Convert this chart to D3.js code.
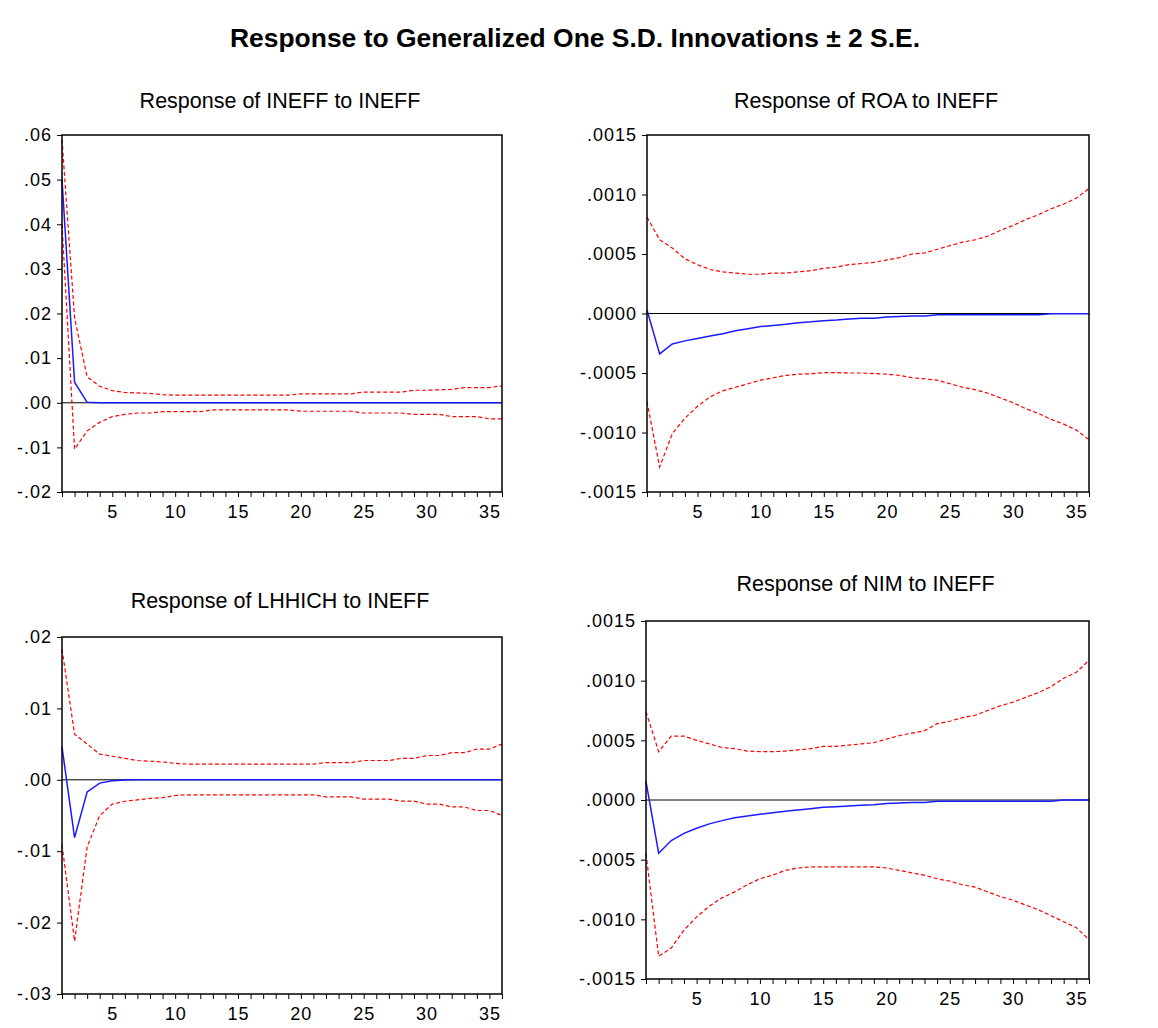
<!DOCTYPE html>
<html>
<head>
<meta charset="utf-8">
<script src="https://cdn.jsdelivr.net/npm/d3@7"></script>
<style>
  body { margin: 0; background: #fff; }
  svg { display: block; }
  .tick text { font-family: "Liberation Sans", Arial, sans-serif; font-size: 18px; letter-spacing: 1px; fill: #000; }
  .tick line { stroke: #000; stroke-width: 1; }
  .domain { display: none; }
</style>
</head>
<body>
<div id="chart"></div>
<script>
const periods = [1,2,3,4,5,6,7,8,9,10,11,12,13,14,15,16,17,18,19,20,21,22,23,24,25,26,27,28,29,30,31,32,33,34,35,36];
const xTickLabels = [5, 10, 15, 20, 25, 30, 35];

const titles = [
  "Response of INEFF to INEFF",
  "Response of ROA to INEFF",
  "Response of LHHICH to INEFF",
  "Response of NIM to INEFF"
];

// INEFF -> INEFF
const ineffResp = [0.050, 0.0046, 0.0001, 0, 0, 0, 0, 0, 0, 0, 0, 0, 0, 0, 0, 0, 0, 0, 0, 0, 0, 0, 0, 0, 0, 0, 0, 0, 0, 0, 0, 0, 0, 0, 0, 0];
const ineffUp = [0.059, 0.019, 0.0058, 0.0037, 0.0027, 0.0023, 0.0022, 0.0021, 0.0018, 0.0017, 0.0017, 0.0017, 0.0017, 0.0017, 0.0017, 0.0017, 0.0017, 0.0017, 0.0017, 0.0020, 0.0020, 0.0020, 0.0020, 0.0020, 0.0024, 0.0024, 0.0024, 0.0024, 0.0028, 0.0028, 0.0029, 0.0030, 0.0034, 0.0034, 0.0034, 0.0038];
const ineffLo = [0.040, -0.0104, -0.0063, -0.0044, -0.0031, -0.0026, -0.0023, -0.0023, -0.0020, -0.0020, -0.0020, -0.0020, -0.0016, -0.0016, -0.0016, -0.0016, -0.0016, -0.0016, -0.0016, -0.0019, -0.0019, -0.0019, -0.0019, -0.0019, -0.0023, -0.0023, -0.0023, -0.0023, -0.0026, -0.0026, -0.0026, -0.0031, -0.0031, -0.0031, -0.0036, -0.0036];

// ROA -> INEFF
const roaResp = [0.00003, -0.00034, -0.000256, -0.00023, -0.00021, -0.00019, -0.00017, -0.000145, -0.000128, -0.00011, -0.0001, -0.00009, -0.000077, -0.00007, -0.00006, -0.000055, -0.000047, -0.00004, -0.00004, -0.00003, -0.000025, -0.00002, -0.00002, -0.00001, -0.00001, -0.00001, -0.00001, -0.00001, -0.00001, -0.00001, -0.00001, -0.00001, -0.000003, -0.000003, -0.000003, -0.000003];
const roaUp = [0.00081, 0.00062, 0.00055, 0.00046, 0.00041, 0.00037, 0.00035, 0.00034, 0.00033, 0.00033, 0.00034, 0.00034, 0.00035, 0.00036, 0.00038, 0.00039, 0.00041, 0.00042, 0.00043, 0.00045, 0.00047, 0.00050, 0.00051, 0.00054, 0.00057, 0.00060, 0.00062, 0.00065, 0.00070, 0.00074, 0.00079, 0.00083, 0.00088, 0.00092, 0.00097, 0.00105];
const roaLo = [-0.00074, -0.00129, -0.00101, -0.00088, -0.00078, -0.00070, -0.00065, -0.00062, -0.00059, -0.00056, -0.00054, -0.00052, -0.00051, -0.000506, -0.000497, -0.000497, -0.0005, -0.0005, -0.000505, -0.00051, -0.00052, -0.00054, -0.00055, -0.00056, -0.00059, -0.00062, -0.00064, -0.00067, -0.00071, -0.00075, -0.00080, -0.00084, -0.00089, -0.00093, -0.00098, -0.00106];

// LHHICH -> INEFF
const lhhResp = [0.0046, -0.0081, -0.0017, -0.00046, -0.00014, -0.00003, 0, 0, 0, 0, 0, 0, 0, 0, 0, 0, 0, 0, 0, 0, 0, 0, 0, 0, 0, 0, 0, 0, 0, 0, 0, 0, 0, 0, 0, 0];
const lhhUp = [0.0183, 0.0064, 0.0050, 0.0036, 0.0033, 0.0030, 0.0027, 0.0026, 0.0025, 0.0023, 0.0022, 0.0022, 0.0022, 0.0022, 0.0022, 0.0022, 0.0022, 0.0022, 0.0022, 0.0022, 0.0022, 0.0024, 0.0024, 0.0024, 0.0027, 0.0027, 0.0027, 0.0030, 0.0030, 0.0034, 0.0034, 0.0038, 0.0038, 0.0043, 0.0043, 0.0050];
const lhhLo = [-0.0091, -0.0226, -0.0094, -0.0050, -0.0034, -0.0030, -0.0028, -0.0026, -0.0025, -0.0022, -0.0021, -0.0021, -0.0021, -0.0021, -0.0021, -0.0021, -0.0021, -0.0021, -0.0021, -0.0021, -0.0021, -0.0024, -0.0024, -0.0024, -0.0027, -0.0027, -0.0027, -0.0030, -0.0030, -0.0034, -0.0034, -0.0038, -0.0038, -0.0043, -0.0043, -0.0050];

// NIM -> INEFF
const nimResp = [0.000153, -0.000446, -0.00034, -0.00028, -0.000237, -0.0002, -0.000173, -0.000148, -0.000134, -0.00012, -0.000106, -0.000095, -0.000084, -0.000073, -0.000061, -0.000056, -0.00005, -0.000045, -0.00004, -0.00003, -0.000025, -0.00002, -0.00002, -0.00001, -0.00001, -0.00001, -0.00001, -0.00001, -0.00001, -0.00001, -0.00001, -0.00001, -0.00001, 0, 0, 0];
const nimUp = [0.00074, 0.000405, 0.000536, 0.000536, 0.0005, 0.00047, 0.00044, 0.00043, 0.00041, 0.000405, 0.000405, 0.00041, 0.00042, 0.00043, 0.00045, 0.00045, 0.00046, 0.00047, 0.00048, 0.00051, 0.00054, 0.00056, 0.00058, 0.00064, 0.00066, 0.00069, 0.00071, 0.00075, 0.00079, 0.00082, 0.00086, 0.00090, 0.00095, 0.00102, 0.00107, 0.00117];
const nimLo = [-0.00045, -0.00131, -0.00124, -0.00109, -0.00098, -0.00089, -0.00082, -0.00077, -0.00071, -0.00066, -0.00063, -0.00059, -0.00057, -0.00056, -0.00056, -0.00056, -0.00056, -0.00056, -0.00056, -0.00057, -0.00059, -0.00061, -0.00063, -0.00066, -0.00068, -0.00071, -0.00073, -0.00077, -0.00081, -0.00084, -0.00088, -0.00092, -0.00097, -0.00102, -0.00107, -0.00117];

const yTicksIneff = [-0.02, -0.01, 0, 0.01, 0.02, 0.03, 0.04, 0.05, 0.06];
const yTicksRoa = [-0.0015, -0.001, -0.0005, 0, 0.0005, 0.001, 0.0015];
const yTicksLhh = [-0.03, -0.02, -0.01, 0, 0.01, 0.02];
const yTicksNim = [-0.0015, -0.001, -0.0005, 0, 0.0005, 0.001, 0.0015];

const width = 1158, height = 1028;
const font = '"Liberation Sans", Arial, sans-serif';

// plain hyphen for negatives, like the original
const locale = d3.formatLocale({ decimal: ".", thousands: ",", grouping: [3], currency: ["$", ""], minus: "-" });

const svg = d3.select("#chart").append("svg")
  .attr("width", width)
  .attr("height", height);

svg.append("text")
  .attr("x", 575)
  .attr("y", 47)
  .attr("text-anchor", "middle")
  .attr("font-family", font)
  .attr("font-size", 26)
  .attr("font-weight", "bold")
  .attr("textLength", 690)
  .attr("lengthAdjust", "spacingAndGlyphs")
  .text("Response to Generalized One S.D. Innovations \u00b1 2 S.E.");

const panels = [
  { title: titles[0], resp: ineffResp, up: ineffUp, lo: ineffLo, ticks: yTicksIneff, digits: 2,
    left: 62, right: 502, top: 135, bottom: 492, titleY: 108 },
  { title: titles[1], resp: roaResp, up: roaUp, lo: roaLo, ticks: yTicksRoa, digits: 4,
    left: 647, right: 1089, top: 135, bottom: 492, titleY: 108 },
  { title: titles[2], resp: lhhResp, up: lhhUp, lo: lhhLo, ticks: yTicksLhh, digits: 2,
    left: 62, right: 502, top: 637, bottom: 994, titleY: 608 },
  { title: titles[3], resp: nimResp, up: nimUp, lo: nimLo, ticks: yTicksNim, digits: 4,
    left: 646, right: 1089, top: 621, bottom: 979, titleY: 591 }
];

panels.forEach(p => {
  const x = d3.scaleLinear().domain([1, 36]).range([p.left, p.right]);
  const y = d3.scaleLinear()
    .domain([p.ticks[0], p.ticks[p.ticks.length - 1]])
    .range([p.bottom, p.top]);
  const fmt = d => locale.format("." + p.digits + "f")(d).replace("0.", ".");

  const g = svg.append("g");

  g.append("text")
    .attr("x", (p.left + p.right) / 2 - 2)
    .attr("y", p.titleY)
    .attr("text-anchor", "middle")
    .attr("font-family", font)
    .attr("font-size", 21.5)
    .text(p.title);

  g.append("g")
    .attr("transform", `translate(${p.left},0)`)
    .call(d3.axisLeft(y).tickValues(p.ticks).tickSize(5).tickPadding(5).tickFormat(fmt));

  g.append("g")
    .attr("transform", `translate(0,${p.bottom})`)
    .call(d3.axisBottom(x).tickValues(periods).tickSize(5).tickPadding(8)
      .tickFormat(d => xTickLabels.includes(d) ? d : ""));

  // zero line
  g.append("line")
    .attr("x1", p.left).attr("x2", p.right)
    .attr("y1", y(0)).attr("y2", y(0))
    .attr("stroke", "#000").attr("stroke-width", 1);

  const line = d3.line().x((d, i) => x(periods[i])).y(d => y(d));

  [p.up, p.lo].forEach(band => {
    g.append("path")
      .attr("d", line(band))
      .attr("fill", "none")
      .attr("stroke", "#ff0000")
      .attr("stroke-width", 1.2)
      .attr("stroke-dasharray", "4,2.5");
  });

  g.append("path")
    .attr("d", line(p.resp))
    .attr("fill", "none")
    .attr("stroke", "#1a1aff")
    .attr("stroke-width", 1.5);

  g.append("rect")
    .attr("x", p.left).attr("y", p.top)
    .attr("width", p.right - p.left).attr("height", p.bottom - p.top)
    .attr("fill", "none")
    .attr("stroke", "#000")
    .attr("stroke-width", 1.5);
});
</script>
</body>
</html>
